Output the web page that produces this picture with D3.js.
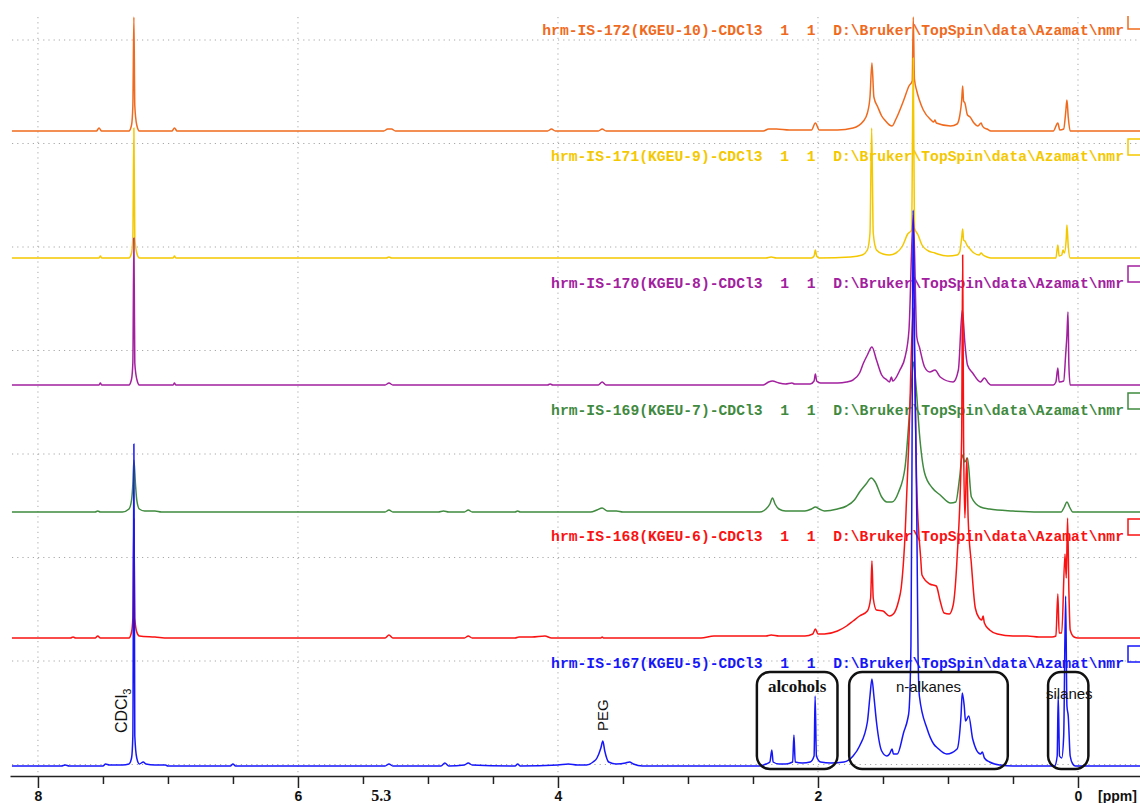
<!DOCTYPE html>
<html>
<head>
<meta charset="utf-8">
<script src="https://cdn.jsdelivr.net/npm/d3@7"></script>
<style>
  body { margin: 0; background: #fff; }
  svg { display: block; }
</style>
</head>
<body>
<div id="svg-div"></div>
<script>
var width = 1140;
var height = 803;

// axis ticks (ppm)
var majorTicks = [8, 6, 4, 2, 0];
var minorTicks = [7.5, 7, 6.5, 5.5, 5, 4.5, 3.5, 3, 2.5, 1.5, 1, 0.5];

// spectra titles, top to bottom
var sampleNames = [
  "hrm-IS-172(KGEU-10)-CDCl3",
  "hrm-IS-171(KGEU-9)-CDCl3",
  "hrm-IS-170(KGEU-8)-CDCl3",
  "hrm-IS-169(KGEU-7)-CDCl3",
  "hrm-IS-168(KGEU-6)-CDCl3",
  "hrm-IS-167(KGEU-5)-CDCl3"
];
var pathText = "  1  1  D:\\Bruker\\TopSpin\\data\\Azamat\\nmr";
var colors = ["#f06a1e", "#f4c800", "#a2209e", "#3f8a3f", "#fa1212", "#1616fa"];

// spectra as [ppm, intensity]
var spec172 = [[8.2,0],[7.55,0],[7.53,3],[7.51,0],[7.30,0],[7.28,6],[7.27,25],[7.262,114],[7.255,25],[7.24,6],[7.22,0],
  [6.97,0],[6.95,3],[6.93,0],[5.34,0],[5.31,2],[5.28,2],[5.25,0],[4.08,0],[4.05,2],[4.02,0],[3.69,0],[3.66,2],[3.63,0],
  [2.42,0],[2.38,2],[2.32,2],[2.22,1],[2.05,1],[2.02,8],[1.99,1],[1.85,1],[1.73,3],[1.65,10],[1.62,18],[1.60,34],
  [1.585,68],[1.57,34],[1.54,24],[1.51,15],[1.48,10],[1.45,6],[1.43,5],[1.40,12],[1.34,31],[1.30,45],[1.275,50],
  [1.267,114],[1.258,52],[1.24,40],[1.22,31],[1.19,21],[1.13,11],[1.11,9],[1.10,11],[1.09,8],[0.98,5],[0.93,7],
  [0.91,15],[0.895,30],[0.887,45],[0.88,30],[0.87,28],[0.85,16],[0.83,14],[0.80,8],[0.77,5],[0.745,8],[0.735,5],
  [0.72,3],[0.70,2],[0.67,0],[0.19,0],[0.155,8],[0.14,1],[0.11,2],[0.095,18],[0.085,31],[0.075,14],[0.06,0],[-0.5,0]];

var spec171 = [[8.2,0],[7.53,0],[7.52,2],[7.51,0],[7.30,0],[7.28,5],[7.27,20],[7.262,130],[7.255,20],[7.24,5],[7.22,0],
  [6.96,0],[6.95,2],[6.94,0],[5.32,0],[5.30,1],[5.28,0],[2.40,0],[2.36,1],[2.32,0],[2.05,0],[2.03,2],[2.02,8],[2.01,2],
  [1.99,0],[1.75,1],[1.66,3],[1.62,8],[1.60,25],[1.587,130],[1.575,25],[1.55,8],[1.50,4],[1.45,3],[1.40,5],[1.35,12],
  [1.31,24],[1.28,28],[1.267,200],[1.258,30],[1.23,23],[1.20,13],[1.15,7],[1.10,5],[1.08,4],[1.00,2],[0.93,3],[0.91,6],
  [0.895,20],[0.887,29],[0.88,18],[0.87,17],[0.85,12],[0.83,9],[0.80,5],[0.76,3],[0.745,5],[0.73,3],[0.70,1],[0.67,0],
  [0.17,0],[0.155,13],[0.145,2],[0.125,3],[0.115,8],[0.105,5],[0.09,20],[0.085,33],[0.075,12],[0.06,0],[-0.5,0]];

var spec170 = [[8.2,0],[7.53,0],[7.52,2],[7.51,0],[7.30,0],[7.28,6],[7.27,22],[7.262,147],[7.255,22],[7.24,6],[7.22,0],
  [6.96,0],[6.95,2],[6.94,0],[5.33,0],[5.30,2],[5.27,0],[4.08,0],[4.06,1],[4.04,0],[3.69,0],[3.66,3],[3.63,0],
  [2.42,0],[2.38,3],[2.35,4],[2.30,2],[2.25,1],[2.20,2],[2.18,1],[2.06,1],[2.03,4],[2.02,11],[2.01,4],[1.98,2],
  [1.85,2],[1.78,3],[1.73,5],[1.68,12],[1.65,22],[1.62,30],[1.585,38],[1.55,25],[1.51,10],[1.47,5],[1.45,3],
  [1.435,8],[1.425,4],[1.37,15],[1.33,28],[1.30,55],[1.267,170],[1.24,48],[1.22,38],[1.18,18],[1.14,13],[1.10,15],
  [1.06,8],[0.96,3],[0.92,15],[0.89,75],[0.87,42],[0.85,20],[0.81,12],[0.75,3],[0.72,7],[0.69,2],[0.67,0],
  [0.19,0],[0.17,3],[0.155,17],[0.145,3],[0.11,4],[0.095,30],[0.085,50],[0.077,73],[0.07,20],[0.06,0],[-0.5,0]];

var spec169 = [[8.2,0],[7.56,0],[7.54,1],[7.52,0],[7.35,0],[7.30,3],[7.28,12],[7.27,28],[7.262,52],[7.25,28],[7.24,12],
  [7.22,3],[7.18,1],[7.10,1],[7.05,0],[5.33,0],[5.30,2],[5.27,0],[4.92,0],[4.88,1],[4.84,0],[4.72,0],[4.69,2],[4.66,0],
  [4.33,0],[4.31,1],[4.29,0],[3.75,0],[3.70,2],[3.66,4],[3.62,1],[3.55,1],[3.50,0],[2.45,0],[2.40,3],[2.37,8],
  [2.35,14],[2.33,8],[2.30,3],[2.25,1],[2.10,1],[2.05,3],[2.02,5],[1.99,3],[1.95,1],[1.85,3],[1.78,6],[1.72,12],
  [1.68,20],[1.63,28],[1.59,34],[1.56,30],[1.51,15],[1.47,10],[1.43,10],[1.38,20],[1.33,45],[1.30,92],[1.28,130],
  [1.265,150],[1.245,125],[1.22,79],[1.18,39],[1.12,24],[1.06,17],[0.98,9],[0.94,10],[0.91,35],[0.89,57],[0.87,50],
  [0.85,54],[0.82,15],[0.75,5],[0.68,3],[0.50,1],[0.30,0],[0.13,0],[0.105,5],[0.085,10],[0.065,5],[0.04,0],[-0.5,0]];

var spec168 = [[8.2,0],[7.75,0],[7.73,1],[7.71,0],[7.56,0],[7.54,2],[7.52,0],[7.30,0],[7.28,6],[7.27,20],[7.262,119],
  [7.255,20],[7.24,6],[7.22,2],[7.10,1],[7.00,0],[5.33,0],[5.30,3],[5.27,0],[4.72,0],[4.69,2],[4.66,0],[4.33,0],
  [4.30,1],[4.20,1],[4.10,2],[4.05,0],[3.67,0],[3.66,1],[3.65,0],[2.90,0],[2.80,2],[2.60,2],[2.40,2],[2.36,3],
  [2.30,2],[2.10,2],[2.04,4],[2.02,9],[2.00,4],[1.95,4],[1.85,7],[1.78,12],[1.73,17],[1.68,22],[1.62,27],[1.595,40],
  [1.585,77],[1.575,40],[1.55,28],[1.50,27],[1.45,22],[1.42,24],[1.38,37],[1.36,50],[1.33,103],[1.30,200],
  [1.267,330],[1.24,150],[1.21,80],[1.20,63],[1.14,54],[1.09,52],[1.06,37],[1.03,25],[0.99,24],[0.96,33],[0.93,80],
  [0.895,200],[0.887,383],[0.88,200],[0.87,120],[0.855,180],[0.845,120],[0.82,74],[0.79,30],[0.76,20],[0.74,18],
  [0.73,22],[0.72,15],[0.68,8],[0.62,4],[0.50,2],[0.39,2],[0.30,1],[0.20,1],[0.17,2],[0.155,44],[0.145,5],
  [0.125,5],[0.10,84],[0.09,60],[0.08,120],[0.07,47],[0.06,8],[0.03,1],[0.00,0],[-0.5,0]];

var spec167 = [[8.2,0],[7.82,0],[7.79,1],[7.76,0],[7.50,0],[7.48,2],[7.45,1],[7.35,1],[7.30,2],[7.28,8],[7.27,30],
  [7.262,322],[7.255,30],[7.24,8],[7.22,2],[7.19,4],[7.17,2],[7.10,1],[7.02,1],[7.00,0],[6.52,0],[6.50,2],[6.48,0],
  [5.33,0],[5.30,2],[5.27,0],[4.90,0],[4.87,3],[4.84,0],[4.72,1],[4.69,3],[4.66,1],[4.33,0],[4.31,2],[4.29,0],
  [4.00,1],[3.92,2],[3.85,1],[3.78,1],[3.73,4],[3.70,8],[3.67,18],[3.655,25],[3.64,15],[3.61,4],[3.55,2],[3.48,3],
  [3.45,4],[3.42,2],[3.35,0],[2.45,0],[2.40,2],[2.37,4],[2.355,16],[2.345,4],[2.30,2],[2.25,2],[2.195,4],[2.185,31],
  [2.175,4],[2.12,3],[2.06,4],[2.03,10],[2.022,70],[2.012,10],[1.98,4],[1.90,3],[1.80,4],[1.73,10],[1.68,20],
  [1.62,44],[1.60,70],[1.585,87],[1.57,70],[1.55,44],[1.51,15],[1.47,10],[1.45,12],[1.43,17],[1.42,12],[1.39,12],
  [1.34,34],[1.31,47],[1.30,55],[1.285,120],[1.277,300],[1.268,556],[1.255,400],[1.24,250],[1.23,110],[1.22,70],
  [1.16,37],[1.11,22],[1.08,18],[1.01,12],[0.93,17],[0.90,50],[0.89,73],[0.875,60],[0.865,45],[0.84,50],[0.81,27],
  [0.75,12],[0.735,14],[0.72,8],[0.68,4],[0.60,1],[0.50,0],[0.18,0],[0.16,10],[0.152,70],[0.142,10],[0.125,8],
  [0.11,30],[0.095,170],[0.085,60],[0.075,50],[0.06,10],[0.04,2],[0.02,0],[-0.5,0]];

var spectra = [spec172, spec171, spec170, spec169, spec168, spec167];

// annotation groups on the bottom spectrum: [label, ppm from, ppm to]
var regions = [["alcohols", 2.47, 1.85], ["n-alkanes", 1.76, 0.54], ["silanes", 0.23, -0.08]];

var svg = d3.select("#svg-div").append("svg")
  .attr("width", width).attr("height", height);

var x = d3.scaleLinear().domain([8.215, -0.477]).range([10, 1140]);
var axisY = 776;
var baseY = [131, 258, 385, 512, 638, 766];
var labelY = [35, 161, 288, 415, 541, 668];

// dotted grid
var gridH = [40, 143.5, 247, 350.5, 454, 557.5, 661, 764.5];
svg.selectAll(".gh").data(gridH).enter().append("line")
  .attr("x1", 12).attr("x2", width)
  .attr("y1", function(d) { return d; }).attr("y2", function(d) { return d; })
  .style("stroke", "#a8a8a8").style("stroke-width", 1)
  .style("stroke-dasharray", "1.2,4");
svg.selectAll(".gv").data(majorTicks).enter().append("line")
  .attr("x1", function(d) { return x(d); }).attr("x2", function(d) { return x(d); })
  .attr("y1", 17).attr("y2", axisY)
  .style("stroke", "#a8a8a8").style("stroke-width", 1)
  .style("stroke-dasharray", "1.2,4");

// titles of each spectrum
sampleNames.forEach(function(name, i) {
  svg.append("text")
    .attr("x", 1124).attr("y", labelY[i])
    .attr("text-anchor", "end")
    .style("font-family", "'Liberation Mono', 'DejaVu Sans Mono', monospace")
    .style("font-weight", "bold")
    .style("font-size", "14.7px")
    .style("fill", colors[i])
    .text((name + pathText).replace(/ /g, "\u00a0"));
  if (i === 0) {
    svg.append("path")
      .attr("d", "M1128,16V29H1142")
      .style("fill", "none").style("stroke", colors[i]).style("stroke-width", 1.5);
  } else {
    svg.append("rect")
      .attr("x", 1128).attr("y", labelY[i] - 22)
      .attr("width", 20).attr("height", 16)
      .style("fill", "none").style("stroke", colors[i]).style("stroke-width", 1.5);
  }
});

// spectra, smoothed between read points
spectra.forEach(function(spec, i) {
  var y = d3.scaleLinear().domain([0, 100]).range([baseY[i], baseY[i] - 100]);
  var line = d3.line()
    .curve(d3.curveMonotoneX)
    .x(function(d) { return x(d[0]); })
    .y(function(d) { return y(d[1]); });
  svg.append("path")
    .datum(spec)
    .attr("d", line)
    .style("fill", "none")
    .style("stroke", colors[i])
    .style("stroke-width", 1.5)
    .style("stroke-linejoin", "round");
});

// x axis
var axis = d3.axisBottom(x).tickValues(majorTicks).tickSize(12).tickSizeOuter(0)
  .tickFormat(d3.format("d"));
var gAxis = svg.append("g").attr("transform", "translate(0," + axisY + ")").call(axis);
gAxis.select(".domain").style("stroke", "#222").style("stroke-width", 1.5);
gAxis.selectAll(".tick line").style("stroke", "#222").style("stroke-width", 1.5);
gAxis.selectAll(".tick text")
  .style("font-family", "Arial, 'Liberation Sans', sans-serif")
  .style("font-weight", "bold").style("font-size", "14px").style("fill", "#111");
var minorAxis = d3.axisBottom(x).tickValues(minorTicks).tickSize(8).tickFormat("");
var gMinor = svg.append("g").attr("transform", "translate(0," + axisY + ")").call(minorAxis);
gMinor.select(".domain").remove();
gMinor.selectAll(".tick line").style("stroke", "#222").style("stroke-width", 1.5);

svg.append("text")
  .attr("x", x(5.36)).attr("y", 801)
  .attr("text-anchor", "middle")
  .style("font-family", "'Liberation Serif', 'Times New Roman', serif")
  .style("font-weight", "bold").style("font-size", "16px").style("fill", "#111")
  .text("5.3");
svg.append("text")
  .attr("x", 1098).attr("y", 801)
  .style("font-family", "Arial, 'Liberation Sans', sans-serif")
  .style("font-weight", "bold").style("font-size", "14px").style("fill", "#111")
  .text("[ppm]");

// annotations on bottom spectrum
var yb = d3.scaleLinear().domain([0, 100]).range([baseY[5], baseY[5] - 100]);
var cd = svg.append("text")
  .attr("transform", "translate(127," + 733 + ") rotate(-90)")
  .style("font-family", "Arial, 'Liberation Sans', sans-serif")
  .style("font-size", "16px").style("fill", "#111");
cd.append("tspan").text("CDCl");
cd.append("tspan").attr("dy", 4).style("font-size", "11px").text("3");
svg.append("text")
  .attr("transform", "translate(608," + 731 + ") rotate(-90)")
  .style("font-family", "Arial, 'Liberation Sans', sans-serif")
  .style("font-size", "15px").style("fill", "#111")
  .text("PEG");

regions.forEach(function(r, i) {
  svg.append("rect")
    .attr("x", x(r[1])).attr("y", yb(94))
    .attr("width", x(r[2]) - x(r[1])).attr("height", yb(-3) - yb(94))
    .attr("rx", 13).attr("ry", 13)
    .style("fill", "none").style("stroke", "#111").style("stroke-width", 2.5);
  var t = svg.append("text")
    .attr("x", (x(r[1]) + x(r[2])) / 2 + (i === 2 ? 1 : 0))
    .attr("y", i === 2 ? 699 : 692)
    .attr("text-anchor", "middle")
    .style("fill", "#111")
    .text(r[0]);
  if (i === 0) {
    t.style("font-family", "'Liberation Serif', 'Times New Roman', serif")
      .style("font-weight", "bold").style("font-size", "17px");
  } else {
    t.style("font-family", "Arial, 'Liberation Sans', sans-serif")
      .style("font-size", "15px");
  }
});
</script>
</body>
</html>
